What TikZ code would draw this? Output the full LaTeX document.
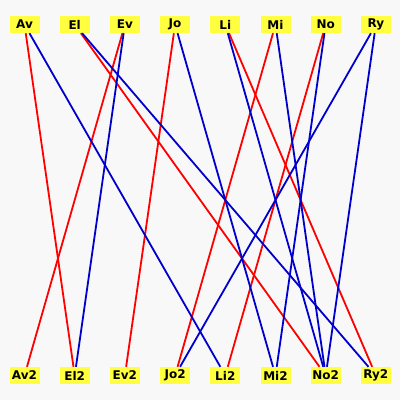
\documentclass[tikz,border=0pt]{standalone}
\usepackage{fontspec}
\setmainfont{DejaVu Sans}
\definecolor{pagegrey}{HTML}{F8F8F8}
\definecolor{boxyellow}{HTML}{FFFF40}
\definecolor{linkred}{HTML}{FF0000}
\definecolor{linkblue}{HTML}{0000CC}
\begin{document}
\begin{tikzpicture}[
  x=1pt, y=-1pt,
  namebox/.style={fill=boxyellow, minimum width=30pt, minimum height=17pt, inner sep=1pt, font=\fontsize{12}{12}\selectfont\bfseries},
  redlink/.style={draw=linkred, line width=1.8pt},
  bluelink/.style={draw=linkblue, line width=1.8pt}
]
\fill[pagegrey] (0,0) rectangle (400,400);
\useasboundingbox (0,0) rectangle (400,400);
% names in two rows
\foreach \n [count=\i from 0] in {Av,El,Ev,Jo,Li,Mi,No,Ry} {
  \node[namebox] (\n) at (24.5+50.2*\i, 24.5) {\n};
  \node[namebox] (\n2) at (24.5+50.2*\i, 375.5) {\n2};
}
% links
\foreach \a/\b in {Av/El2, Ev/Av2, El/No2, Jo/Ev2, Li/Ry2, Mi/Jo2, No/Li2}
  \draw[redlink] (\a) -- (\b);
\foreach \a/\b in {Av/Li2, El/Ry2, Ev/El2, Jo/Mi2, Li/No2, Mi/No2, No/Mi2, Ry/Jo2, Ry/No2}
  \draw[bluelink] (\a) -- (\b);
\end{tikzpicture}
\end{document}
